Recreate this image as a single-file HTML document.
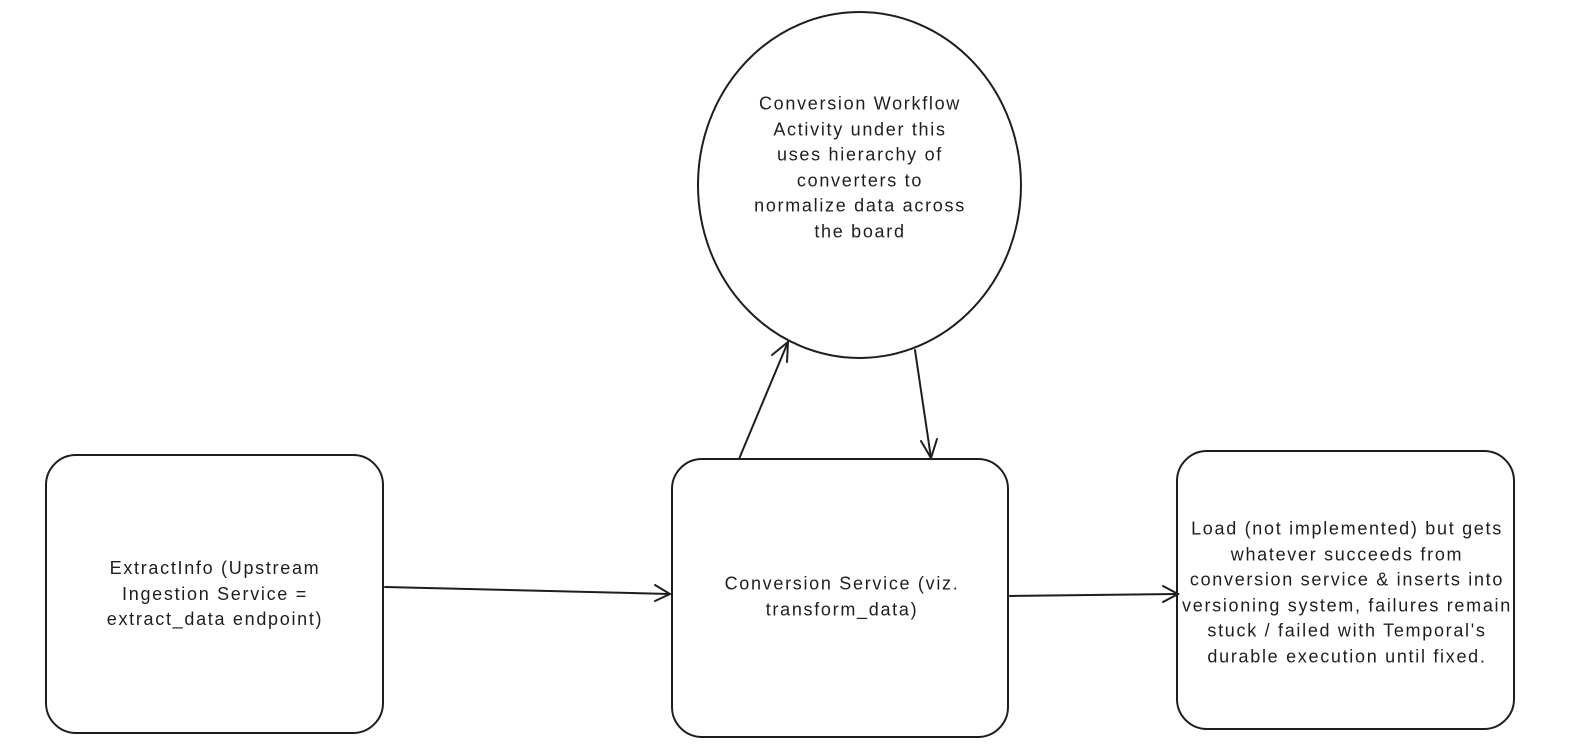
<!DOCTYPE html>
<html><head><meta charset="utf-8"><style>
html,body{margin:0;padding:0;background:#fff;}
body{width:1573px;height:746px;position:relative;overflow:hidden;font-family:"Liberation Sans",sans-serif;color:#1e1e1e;}
.t{position:absolute;text-align:center;font-size:18px;letter-spacing:1.7px;line-height:25.5px;transform:translate(-50%,-50%);white-space:nowrap;}
</style></head><body>
<svg width="1573" height="746" style="position:absolute;left:0;top:0" fill="none" stroke="#1e1e1e" stroke-width="2" stroke-linecap="round">
<rect x="46" y="455" width="337" height="278" rx="30"/>
<rect x="672" y="459" width="336" height="278" rx="30"/>
<rect x="1177" y="451" width="337" height="278" rx="30"/>
<ellipse cx="859.5" cy="185" rx="161.5" ry="173"/>
<path d="M385 587 L670 594"/><path d="M655 585 L670 594 L655 601"/>
<path d="M1010 596 L1178 594"/><path d="M1163 586 L1178 594 L1163 602"/>
<path d="M739 459 L788 342"/><path d="M772 355 L788 342 L787 362"/>
<path d="M915 350 L931 458"/><path d="M921 441 L931 458 L937 439"/>
</svg>
<div class="t" style="left:215px;top:594px">ExtractInfo (Upstream<br>Ingestion Service =<br>extract_data endpoint)</div>
<div class="t" style="left:842px;top:597px">Conversion Service (viz.<br>transform_data)</div>
<div class="t" style="left:1347px;top:593px">Load (not implemented) but gets<br>whatever succeeds from<br>conversion service &amp; inserts into<br>versioning system, failures remain<br>stuck / failed with Temporal's<br>durable execution until fixed.</div>
<div class="t" style="left:860px;top:168px">Conversion Workflow<br>Activity under this<br>uses hierarchy of<br>converters to<br>normalize data across<br>the board</div>
</body></html>
